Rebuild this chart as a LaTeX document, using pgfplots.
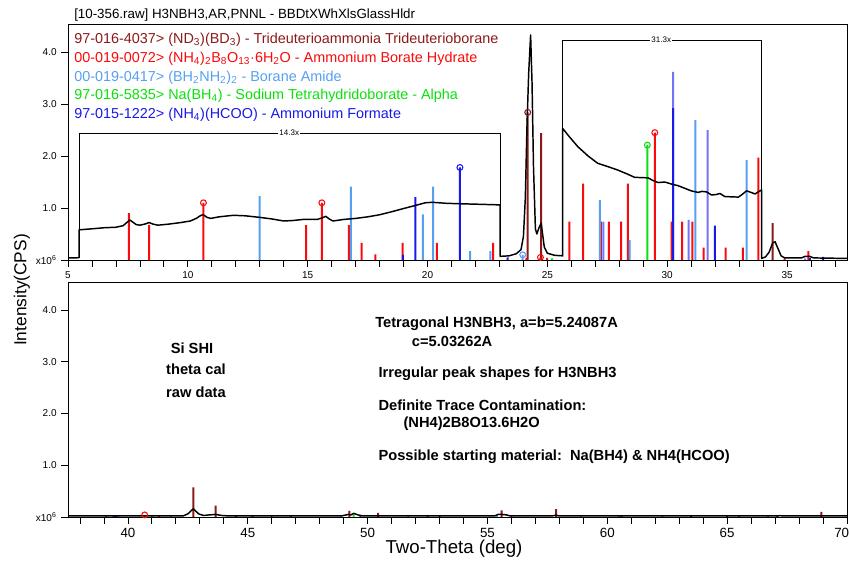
\documentclass[border=0pt]{standalone}
\usepackage{fontspec}
\setmainfont{Liberation Sans}
\usepackage{pgfplots}
\pgfplotsset{compat=1.18}
\definecolor{c1}{RGB}{140,25,25}
\definecolor{c2}{RGB}{250,10,10}
\definecolor{c3}{RGB}{85,160,240}
\definecolor{c4}{RGB}{10,225,10}
\definecolor{c5}{RGB}{25,25,235}
\definecolor{c5l}{RGB}{115,115,245}
\pgfplotsset{
  xrdaxis/.style={
    scale only axis, width=584.25pt,
    ymin=0, ymax=4.54,
    ytick={0,1,2,3,4},
    yticklabels={x10\textsuperscript{6},1.0,2.0,3.0,4.0},
    yticklabel style={font=\fontsize{7.5}{8}\selectfont},
    tick align=outside, xtick pos=bottom, ytick pos=left,
    major tick length=5pt, minor tick length=5pt,
    every tick/.style={black, line width=0.6pt},
    axis line style={line width=0.6pt},
    /pgf/number format/assume math mode=true,
    clip=false,
  },
  stick/.style={ybar, bar width=1.5pt, bar shift=0pt, draw=none, fill=#1},
  circ/.style={only marks, mark=o, mark size=2.2pt, mark options={line width=0.8pt}},
}
\begin{document}
\begin{tikzpicture}
\path[use as bounding box] (0,0) rectangle (637.5pt,425.25pt);
% ---------------- top panel
\begin{axis}[xrdaxis, at={(51pt,230.25pt)}, anchor=south west, height=177pt,
  xmin=5, xmax=37.5, xtick={5,10,...,35}, minor xtick={6,...,37},
  xticklabel style={font=\fontsize{7.5}{8}\selectfont}]
\addplot[stick=c1] coordinates {(24.18,2.84) (24.74,2.44) (34.40,0.71)};
\addplot[stick=c2] coordinates {(7.54,0.90) (8.38,0.67) (10.65,1.10) (14.93,0.67) (15.59,1.10) (16.72,0.67) (17.25,0.33) (17.82,0.11) (18.96,0.33) (20.39,0.33) (22.74,0.33) (24.12,0.04) (24.71,0.05) (24.99,0.04) (25.92,0.74) (26.49,1.47) (27.23,0.74) (27.57,0.74) (28.08,0.74) (28.36,1.47) (29.48,2.45) (30.18,0.74) (30.62,0.74) (31.05,0.74) (31.52,0.24) (32.44,0.24) (33.16,0.24) (33.80,1.97) (34.90,0.03) (35.89,0.17)};
\addplot[stick=c3] coordinates {(12.99,1.23) (16.80,1.41) (19.81,0.88) (20.23,1.41) (21.78,0.17) (22.62,0.17) (23.97,0.10) (27.19,1.15) (28.43,0.38) (31.17,2.69) (33.31,1.92) (35.75,0.03)};
\addplot[stick=c4] coordinates {(25.20,0.03) (29.17,2.21)};
\addplot[stick=c5l] coordinates {(27.34,0.74) (30.25,3.62) (30.89,0.77) (31.68,2.50)};
\addplot[stick=c5] coordinates {(18.97,0.10) (19.49,1.21) (21.35,1.78) (23.34,0.05) (30.25,2.92) (31.99,0.66) (35.95,0.04) (36.50,0.06)};
\addplot[c1, circ] coordinates {(24.18,2.84)};
\addplot[c2, circ] coordinates {(10.65,1.10) (15.59,1.10) (24.71,0.05) (29.48,2.45)};
\addplot[c3, circ] coordinates {(23.97,0.10)};
\addplot[c4, circ] coordinates {(29.17,2.21)};
\addplot[c5, circ] coordinates {(21.35,1.78)};
% zoom boxes
\addplot[black, line width=0.6pt] coordinates {(5.46,0.045) (5.46,2.44) (23.03,2.44) (23.03,0.07)};
\addplot[black, line width=0.6pt] coordinates {(25.64,0.08) (25.64,4.23) (33.94,4.23) (33.94,0.03)};
\node[fill=white, inner sep=1pt, font=\fontsize{6}{6}\selectfont] at (axis cs:14.23,2.44) {14.3x};
\node[fill=white, inner sep=1pt, font=\fontsize{6}{6}\selectfont] at (axis cs:29.75,4.23) {31.3x};
% pattern
\addplot[black, line width=1.1pt, line join=round] coordinates {
(5.0,0.04) (5.3,0.04) (5.46,0.045) (5.46,0.58) (6.0,0.60) (6.5,0.62) (7.0,0.63) (7.3,0.66) (7.45,0.72) (7.58,0.77) (7.7,0.73) (7.85,0.68) (8.0,0.67) (8.2,0.69) (8.38,0.72) (8.55,0.69) (8.75,0.67) (9.2,0.69) (9.7,0.72) (10.1,0.75) (10.35,0.80) (10.55,0.86) (10.65,0.87) (10.8,0.82) (10.95,0.80) (11.3,0.83) (11.9,0.86) (12.4,0.85) (13.0,0.82) (13.5,0.79) (14.0,0.75) (14.4,0.76) (14.8,0.78) (15.4,0.78) (15.6,0.81) (15.75,0.84) (15.9,0.79) (16.05,0.75) (16.5,0.78) (17.0,0.80) (17.5,0.83) (18.0,0.87) (18.6,0.94) (19.0,0.99) (19.5,1.05) (19.9,1.10) (20.2,1.11) (20.8,1.09) (21.5,1.08) (22.3,1.07) (23.03,1.06) (23.03,0.07) (23.4,0.08) (23.7,0.12) (23.9,0.20) (24.0,0.45) (24.08,1.2) (24.15,2.6) (24.22,3.6) (24.3,4.33) (24.36,3.4) (24.42,1.8) (24.5,0.60) (24.56,0.50) (24.65,0.62) (24.74,0.71) (24.8,0.50) (24.87,0.25) (25.0,0.13) (25.3,0.09) (25.64,0.08) (25.64,2.53) (25.9,2.38) (26.27,2.18) (26.7,2.00) (27.1,1.86) (27.5,1.80) (27.94,1.73) (28.3,1.66) (28.64,1.59) (29.2,1.58) (29.4,1.53) (29.62,1.49) (29.9,1.50) (30.18,1.46) (30.45,1.43) (30.73,1.38) (31.0,1.33) (31.29,1.30) (31.45,1.32) (31.64,1.31) (31.85,1.25) (32.05,1.26) (32.2,1.28) (32.4,1.22) (32.97,1.21) (33.15,1.27) (33.31,1.33) (33.5,1.30) (33.66,1.27) (33.94,1.35) (33.94,0.03) (34.1,0.06) (34.25,0.15) (34.4,0.33) (34.5,0.35) (34.62,0.22) (34.75,0.08) (34.9,0.04) (35.6,0.04) (35.75,0.07) (35.95,0.07) (36.1,0.04) (37.5,0.03)};
\end{axis}
% ---------------- bottom panel
\begin{axis}[xrdaxis, at={(51pt,37.5pt)}, anchor=south west, height=176.25pt,
  xmin=37.5, xmax=70, xtick={40,45,...,70}, minor xtick={38,...,69},
  xticklabels={40,45,50,55,60,65,\hspace*{-8pt}70},
  xticklabel style={font=\fontsize{10}{11}\selectfont}]
\addplot[stick=c1] coordinates {(42.73,0.57) (43.66,0.22) (49.24,0.12) (50.44,0.08) (55.59,0.13) (57.86,0.15) (67.10,0.03) (68.93,0.10)};
\addplot[stick=c2] coordinates {(39.10,0.03) (40.70,0.03) (41.30,0.02) (46.00,0.03) (46.80,0.02) (52.50,0.02) (56.00,0.02) (62.30,0.02) (65.50,0.02)};
\addplot[stick=c3] coordinates {(39.60,0.03) (41.00,0.03) (48.90,0.03) (55.40,0.03) (58.90,0.02)};
\addplot[stick=c4] coordinates {(41.80,0.03) (49.42,0.05) (51.70,0.02) (60.50,0.02) (66.70,0.02)};
\addplot[stick=c5] coordinates {(39.40,0.02) (39.50,0.02) (44.50,0.02) (45.20,0.02) (49.70,0.02) (53.00,0.02) (60.60,0.02) (63.50,0.02) (65.00,0.02)};
\addplot[c2, circ] coordinates {(40.70,0.04)};
\addplot[black, line width=1.1pt, line join=round] coordinates {
(37.5,0.02) (42.3,0.02) (42.5,0.06) (42.73,0.16) (42.95,0.06) (43.15,0.03) (43.4,0.04) (43.66,0.05) (43.9,0.03) (44.2,0.02) (48.9,0.02) (49.1,0.04) (49.2,0.05) (49.3,0.04) (49.42,0.07) (49.6,0.04) (49.8,0.02) (55.3,0.02) (55.45,0.05) (55.6,0.05) (55.8,0.04) (55.95,0.02) (57.7,0.02) (57.85,0.035) (58.0,0.02) (67.0,0.02) (67.2,0.025) (67.4,0.02) (70,0.02)};
\end{axis}
% ---------------- texts (1 unit = 1 px of the reference, y upward)
\begin{scope}[x=0.75pt,y=0.75pt]
\node[anchor=west, inner sep=0, font=\fontsize{10}{12}\selectfont] at (74,552) {[10-356.raw] H3NBH3,AR,PNNL - BBDtXWhXlsGlassHldr};
\begin{scope}[every node/.style={anchor=west, inner sep=0, font=\fontsize{10.8}{13}\selectfont}]
\node[text=c1] at (74,527) {97-016-4037> (ND\textsubscript{3})(BD\textsubscript{3}) - Trideuterioammonia Trideuterioborane};
\node[text=c2] at (74,508.7) {00-019-0072> (NH\textsubscript{4})\textsubscript{2}B\textsubscript{8}O\textsubscript{13}·6H\textsubscript{2}O - Ammonium Borate Hydrate};
\node[text=c3] at (74,489.7) {00-019-0417> (BH\textsubscript{2}NH\textsubscript{2})\textsubscript{2} - Borane Amide};
\node[text=c4] at (74,471.3) {97-016-5835> Na(BH\textsubscript{4}) - Sodium Tetrahydridoborate - Alpha};
\node[text=c5] at (74,452.7) {97-015-1222> (NH\textsubscript{4})(HCOO) - Ammonium Formate};
\end{scope}
\node[rotate=90, font=\fontsize{13}{15}\selectfont] at (22,277) {Intensity(CPS)};
\node[font=\fontsize{14}{16}\selectfont] at (454,18) {Two-Theta (deg)};
\begin{scope}[every node/.style={inner sep=0, font=\bfseries\fontsize{11}{13}\selectfont}]
\node at (192,219) {Si SHI};
\node at (196,198) {theta cal};
\node at (196,175) {raw data};
\node[anchor=west] at (375,243.7) {Tetragonal H3NBH3, a=b=5.24087A};
\node[anchor=west] at (411.7,225.3) {c=5.03262A};
\node[anchor=west] at (378.3,193.7) {Irregular peak shapes for H3NBH3};
\node[anchor=west] at (378.3,162) {Definite Trace Contamination:};
\node[anchor=west] at (403.3,143.7) {(NH4)2B8O13.6H2O};
\node[anchor=west] at (378.3,110.3) {Possible starting material:\ \ Na(BH4) \& NH4(HCOO)};
\end{scope}
\end{scope}
\end{tikzpicture}
\end{document}
